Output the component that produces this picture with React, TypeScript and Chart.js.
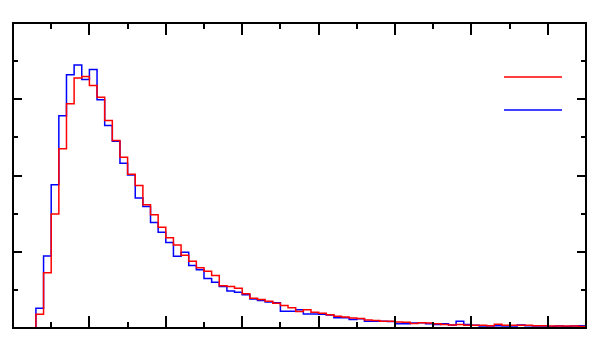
import React, { useEffect, useRef } from "react";
import { Chart, registerables } from "chart.js";

Chart.register(...registerables);

// Histogram bins: first bin starts at 0.6, width 0.2 (x axis 0..15, y axis 0..8)
const binStart = 0.6;
const binWidth = 0.2;

const redValues = [
  0.36, 1.45, 2.99, 4.7, 5.88, 6.56, 6.6, 6.36, 6.05, 5.44,
  4.92, 4.48, 4.03, 3.74, 3.23, 2.97, 2.64, 2.37, 2.18, 1.91,
  1.75, 1.58, 1.49, 1.38, 1.11, 1.09, 1.04, 0.9, 0.78, 0.75,
  0.7, 0.65, 0.59, 0.53, 0.43, 0.48, 0.41, 0.39, 0.35, 0.31,
  0.29, 0.26, 0.25, 0.21, 0.2, 0.18, 0.18, 0.16, 0.15, 0.12,
  0.14, 0.13, 0.11, 0.09, 0.08, 0.09, 0.07, 0.07, 0.07, 0.06,
  0.1, 0.07, 0.07, 0.07, 0.07, 0.06, 0.06, 0.05, 0.05, 0.05,
  0.05, 0.04,
];

const blueValues = [
  0.52, 1.89, 3.76, 5.57, 6.64, 6.9, 6.52, 6.78, 5.99, 5.31,
  4.9, 4.32, 4.01, 3.41, 3.19, 2.77, 2.51, 2.24, 1.88, 1.99,
  1.64, 1.53, 1.3, 1.2, 1.09, 0.97, 0.94, 0.87, 0.76, 0.72,
  0.68, 0.66, 0.44, 0.44, 0.48, 0.37, 0.37, 0.36, 0.34, 0.27,
  0.27, 0.22, 0.24, 0.18, 0.18, 0.18, 0.17, 0.11, 0.11, 0.13,
  0.14, 0.11, 0.09, 0.11, 0.08, 0.18, 0.09, 0.07, 0.05, 0.05,
  0.06, 0.05, 0.05, 0.08, 0.06, 0.05, 0.05, 0.04, 0.05, 0.04,
  0.05, 0.06,
];

const xMajorTicks = [2, 4, 6, 8, 10, 12, 14];
const xMinorTicks = [1, 3, 5, 7, 9, 11, 13];
const yMajorTicks = [2, 4, 6];
const yMinorTicks = [1, 3, 5, 7];

const RED = "#ff0000";
const BLUE = "#0000ff";

function stepPoints(values: number[]) {
  const pts: { x: number; y: number }[] = [{ x: binStart, y: 0 }];
  values.forEach((v, i) => pts.push({ x: binStart + i * binWidth, y: v }));
  pts.push({ x: binStart + values.length * binWidth, y: values[values.length - 1] });
  return pts;
}

const framePlugin = {
  id: "frame",
  afterDatasetsDraw(chart: any) {
    const { ctx, chartArea: a, scales } = chart;
    const xs = scales.x;
    const ys = scales.y;
    ctx.save();
    ctx.strokeStyle = "#000";
    ctx.lineWidth = 2;
    ctx.beginPath();
    const xt = (list: number[], len: number) => {
      list.forEach((v) => {
        const px = Math.round(xs.getPixelForValue(v));
        ctx.moveTo(px, a.bottom);
        ctx.lineTo(px, a.bottom - len);
        ctx.moveTo(px, a.top);
        ctx.lineTo(px, a.top + len);
      });
    };
    const yt = (list: number[], len: number) => {
      list.forEach((v) => {
        const py = Math.round(ys.getPixelForValue(v));
        ctx.moveTo(a.left, py);
        ctx.lineTo(a.left + len, py);
        ctx.moveTo(a.right, py);
        ctx.lineTo(a.right - len, py);
      });
    };
    xt(xMajorTicks, 12);
    xt(xMinorTicks, 6);
    yt(yMajorTicks, 9);
    yt(yMinorTicks, 5);
    ctx.stroke();
    ctx.strokeRect(a.left, a.top, a.right - a.left, a.bottom - a.top);

    // legend lines (no labels)
    ctx.lineWidth = 1.5;
    ctx.strokeStyle = RED;
    ctx.beginPath();
    ctx.moveTo(a.right - 82, a.top + 54);
    ctx.lineTo(a.right - 24, a.top + 54);
    ctx.stroke();
    ctx.strokeStyle = BLUE;
    ctx.beginPath();
    ctx.moveTo(a.right - 82, a.top + 87);
    ctx.lineTo(a.right - 24, a.top + 87);
    ctx.stroke();
    ctx.restore();
  },
};

export default function App() {
  const ref = useRef<HTMLCanvasElement | null>(null);
  useEffect(() => {
    if (!ref.current) return;
    const chart = new Chart(ref.current, {
      type: "line",
      data: {
        datasets: [
          {
            label: "red",
            data: stepPoints(redValues),
            borderColor: RED,
            borderWidth: 1.5,
            stepped: "before",
            pointRadius: 0,
            fill: false,
          },
          {
            label: "blue",
            data: stepPoints(blueValues),
            borderColor: BLUE,
            borderWidth: 1.5,
            stepped: "before",
            pointRadius: 0,
            fill: false,
          },
        ],
      },
      options: {
        responsive: false,
        animation: false,
        layout: { padding: { left: 13, right: 14, top: 23, bottom: 22 } },
        plugins: { legend: { display: false }, tooltip: { enabled: false } },
        scales: {
          x: {
            type: "linear",
            min: 0,
            max: 15,
            ticks: { display: false },
            grid: { display: false, drawTicks: false },
            border: { display: false },
          },
          y: {
            type: "linear",
            min: 0,
            max: 8,
            ticks: { display: false },
            grid: { display: false, drawTicks: false },
            border: { display: false },
          },
        },
      },
      plugins: [framePlugin],
    });
    return () => chart.destroy();
  }, []);
  return (
    <div style={{ position: "absolute", left: 0, top: 0, width: 600, height: 350, background: "#fff" }}>
      <canvas ref={ref} width={600} height={350} />
    </div>
  );
}
